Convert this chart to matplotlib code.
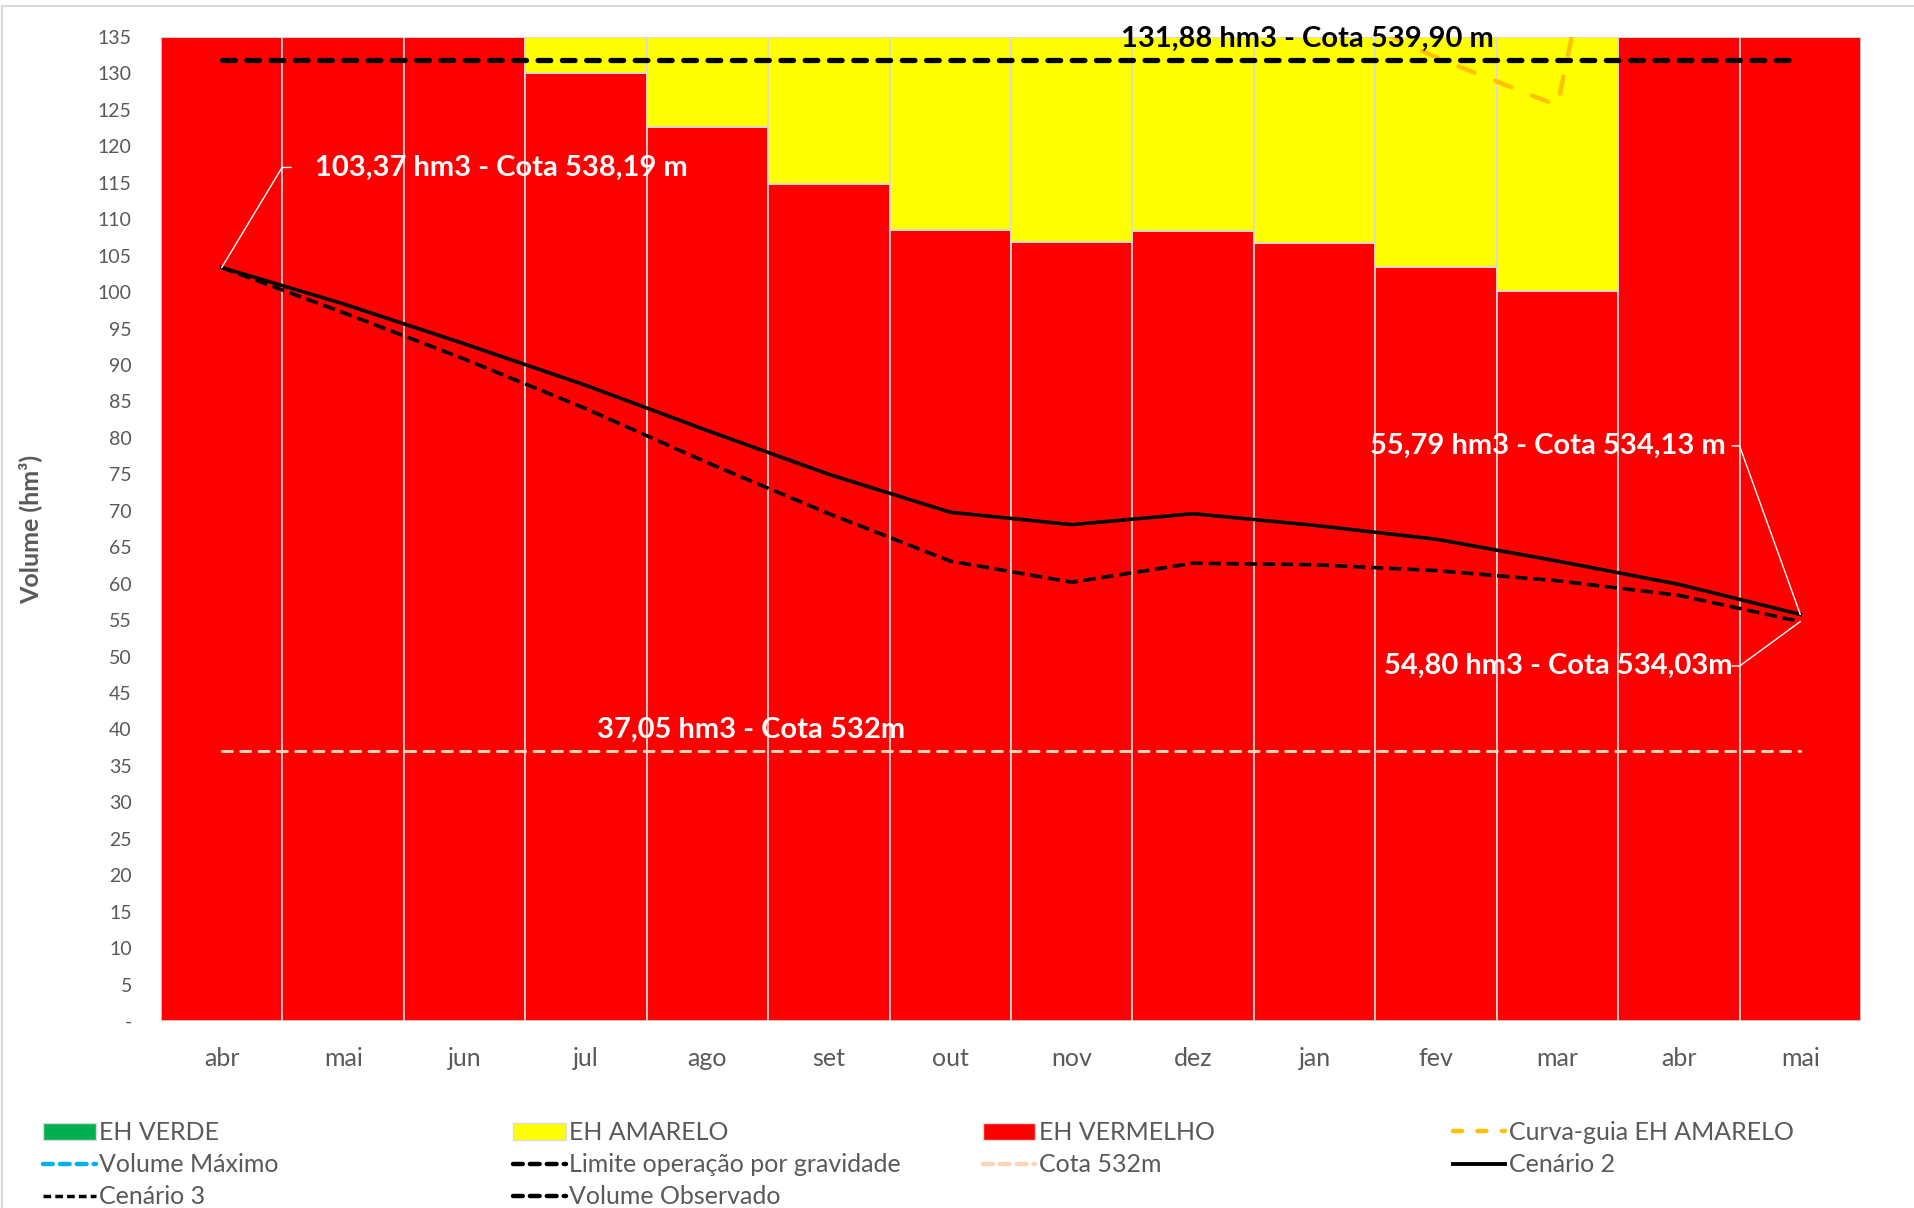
import numpy as np
import matplotlib.pyplot as plt
from matplotlib.patches import Patch, Rectangle
from matplotlib.lines import Line2D

plt.rcParams['font.family'] = ['Lato', 'DejaVu Sans']

# Categories (months)
meses = ["abr", "mai", "jun", "jul", "ago", "set", "out", "nov", "dez",
         "jan", "fev", "mar", "abr", "mai"]

# Stacked areas (hm3) - EH VERMELHO at bottom, EH AMARELO on top
eh_vermelho = [135, 135, 135, 130.1, 122.6, 114.9, 108.5, 106.9, 108.4,
               106.7, 103.4, 100.2, 135, 135]
eh_amarelo = [0, 0, 0, 4.9, 12.4, 20.1, 26.5, 28.1, 26.6, 28.3, 31.6, 34.8, 0, 0]

# Scenarios (hm3)
cenario_2 = [103.37, 98.4, 92.9, 87.2, 81.0, 75.0, 69.8, 68.1, 69.6, 68.0,
             66.1, 63.1, 59.9, 55.79]
cenario_3 = [103.37, 97.2, 90.8, 84.0, 76.6, 69.6, 63.1, 60.2, 62.8, 62.6,
             61.8, 60.4, 58.4, 54.80]

# Curva-guia EH AMARELO (only part visible)
curva_idx = [9, 10, 11, 12]
curva_guia = [140.0, 132.2, 125.6, 205.0]

# Horizontal references
limite_gravidade = 131.88
cota_532 = 37.05

RED = "#FF0000"
YEL = "#FFFF00"
GRN = "#00B050"
ORG = "#FFC000"
CYAN = "#00B0F0"
PEACH = "#FBD5B8"
GRAY = "#595959"
EDGE = "#D9D9D9"

fig = plt.figure(figsize=(19.15, 12.08), dpi=100)
ax = fig.add_axes([161 / 1915, 1 - 1021 / 1208, 1700 / 1915, 984 / 1208])

x = np.arange(len(meses))
ax.bar(x, eh_vermelho, width=1.0, color=RED, edgecolor=EDGE, linewidth=1.2)
ax.bar(x, eh_amarelo, width=1.0, bottom=eh_vermelho, color=YEL,
       edgecolor=EDGE, linewidth=1.2)

ax.plot(curva_idx, curva_guia, color=ORG, lw=3.2, dashes=(3.9, 5.0),
        dash_capstyle="round", zorder=3)
ax.plot([x[0], x[-1]], [limite_gravidade] * 2, color="black", lw=3.8,
        dashes=(2.4, 2.2), dash_capstyle="round", zorder=4)
ax.plot([x[0], x[-1]], [cota_532] * 2, color=PEACH, lw=2.2,
        dashes=(3.2, 2.8), dash_capstyle="round", zorder=4)
ax.plot(x, cenario_3, color="black", lw=2.6, dashes=(3.4, 1.6), zorder=5)
ax.plot(x, cenario_2, color="black", lw=2.6, zorder=6)

ax.set_xlim(-0.5, len(meses) - 0.5)
ax.set_ylim(0, 135)
for s in ax.spines.values():
    s.set_visible(False)

ax.set_yticks(np.arange(0, 136, 5))
ax.set_yticklabels(["-"] + [str(v) for v in range(5, 136, 5)])
ax.set_xticks(x)
ax.set_xticklabels(meses)
ax.tick_params(axis="y", length=0, pad=21, labelsize=14, labelcolor=GRAY)
ax.tick_params(axis="x", length=0, pad=19, labelsize=18, labelcolor=GRAY)
ax.set_ylabel("Volume (hm³)", fontsize=18, fontweight="bold", color=GRAY,
              labelpad=40)

# Annotations
ann = dict(fontsize=21, fontweight="bold", zorder=8)
ax.text(8.94, 134.7, "131,88 hm3 - Cota 539,90 m", color="black",
        ha="center", va="center", clip_on=False, **ann)
ax.text(0.77, 117.1, "103,37 hm3 - Cota 538,19 m", color="white",
        ha="left", va="center", **ann)
ax.plot([0, 0.497, 0.57], [cenario_2[0], 117.1, 117.1], color="white",
        lw=1, zorder=7)
ax.text(12.39, 78.9, "55,79 hm3 - Cota 534,13 m", color="white",
        ha="right", va="center", **ann)
ax.plot([13, 12.5, 12.44], [cenario_2[-1], 78.9, 78.9], color="white",
        lw=1, zorder=7)
ax.text(12.44, 48.7, "54,80 hm3 - Cota 534,03m", color="white",
        ha="right", va="center", **ann)
ax.plot([13, 12.5, 12.44], [cenario_3[-1], 48.7, 48.7], color="white",
        lw=1, zorder=7)
ax.text(4.36, 39.9, "37,05 hm3 - Cota 532m", color="white",
        ha="center", va="center", **ann)

# Legend, laid out as four columns
cols = [
    [(Patch(facecolor=GRN, edgecolor=EDGE), "EH VERDE"),
     (Line2D([], [], color=CYAN, lw=3.2, dashes=(2.2, 1.6),
             dash_capstyle="round"), "Volume Máximo"),
     (Line2D([], [], color="black", lw=2.5, dashes=(2.2, 1.2)), "Cenário 3")],
    [(Patch(facecolor=YEL, edgecolor=EDGE), "EH AMARELO"),
     (Line2D([], [], color="black", lw=3.2, dashes=(2.2, 1.6),
             dash_capstyle="round"), "Limite operação por gravidade"),
     (Line2D([], [], color="black", lw=3.2, dashes=(2.2, 1.6),
             dash_capstyle="round"), "Volume Observado")],
    [(Patch(facecolor=RED, edgecolor=EDGE), "EH VERMELHO"),
     (Line2D([], [], color=PEACH, lw=3.2, dashes=(2.2, 1.6),
             dash_capstyle="round"), "Cota 532m")],
    [(Line2D([], [], color=ORG, lw=3.2, dashes=(2.0, 3.5),
             dash_capstyle="round"), "Curva-guia EH AMARELO"),
     (Line2D([], [], color="black", lw=2.8), "Cenário 2")],
]
col_x = [43, 513, 983, 1453]
for cx, entries in zip(col_x, cols):
    h, l = zip(*entries)
    leg = fig.legend(h, l, loc="upper left",
                     bbox_to_anchor=(cx / 1915, 1 - 1121 / 1208),
                     frameon=False, fontsize=18, handlelength=2.1,
                     handleheight=0.7, handletextpad=0.15, labelspacing=0.37,
                     borderpad=0, borderaxespad=0)
    for t in leg.get_texts():
        t.set_color(GRAY)

# Chart area border
fig.patches.append(Rectangle((2 / 1915, -0.1), 1.1, 1.1 - 6 / 1208,
                             transform=fig.transFigure, fill=False,
                             edgecolor=EDGE, lw=1.5))

fig.savefig("out.png", dpi=100)
